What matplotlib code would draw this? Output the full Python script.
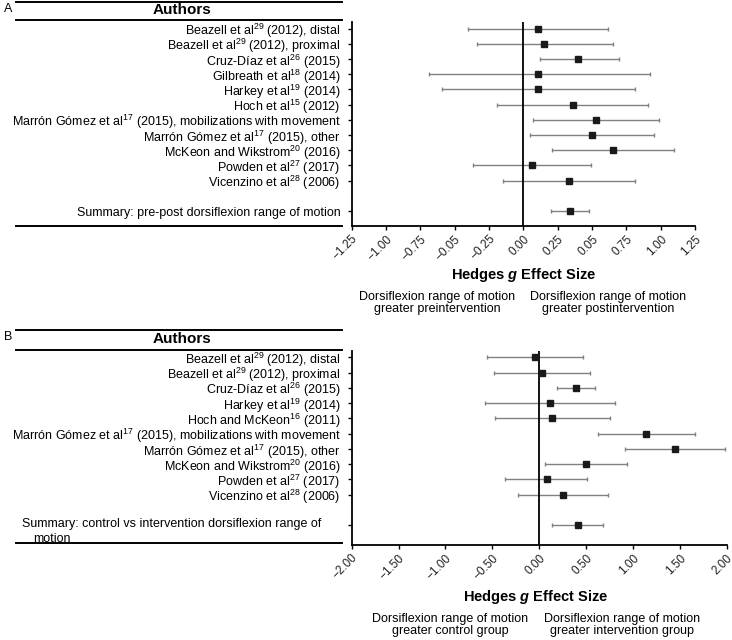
import matplotlib.pyplot as plt
from matplotlib.lines import Line2D

plt.rcParams['font.family'] = ['Liberation Sans', 'DejaVu Sans']
plt.rcParams['mathtext.fontset'] = 'custom'
plt.rcParams['mathtext.rm'] = 'Liberation Sans'
plt.rcParams['mathtext.it'] = 'Liberation Sans:italic'
plt.rcParams['mathtext.bf'] = 'Liberation Sans:bold'
plt.rcParams['mathtext.bfit'] = 'Liberation Sans:italic:bold'

# Panel A: pre-post
studies_a = [r"Beazell et al$^{29}$ (2012), distal",
             r"Beazell et al$^{29}$ (2012), proximal",
             r"Cruz-Díaz et al$^{26}$ (2015)",
             r"Gilbreath et al$^{18}$ (2014)",
             r"Harkey et al$^{19}$ (2014)",
             r"Hoch et al$^{15}$ (2012)",
             r"Marrón Gómez et al$^{17}$ (2015), mobilizations with movement",
             r"Marrón Gómez et al$^{17}$ (2015), other",
             r"McKeon and Wikstrom$^{20}$ (2016)",
             r"Powden et al$^{27}$ (2017)",
             r"Vicenzino et al$^{28}$ (2006)",
             "Summary: pre-post dorsiflexion range of motion"]
g_a = [0.11, 0.15, 0.40, 0.11, 0.11, 0.36, 0.53, 0.50, 0.65, 0.06, 0.33, 0.34]
lo_a = [-0.40, -0.34, 0.12, -0.69, -0.59, -0.19, 0.07, 0.05, 0.21, -0.37, -0.15, 0.20]
hi_a = [0.62, 0.65, 0.70, 0.92, 0.81, 0.91, 0.99, 0.95, 1.10, 0.49, 0.81, 0.48]
ticks_a = [-1.25, -1.0, -0.75, -0.5, -0.25, 0.0, 0.25, 0.5, 0.75, 1.0, 1.25]
ticklabels_a = ["\u22121.25", "\u22121.00", "\u22120.75", "\u22120.05", "\u22120.25",
                "0.00", "0.25", "0.05", "0.75", "1.00", "1.25"]

# Panel B: control vs intervention
studies_b = [r"Beazell et al$^{29}$ (2012), distal",
             r"Beazell et al$^{29}$ (2012), proximal",
             r"Cruz-Díaz et al$^{26}$ (2015)",
             r"Harkey et al$^{19}$ (2014)",
             r"Hoch and McKeon$^{16}$ (2011)",
             r"Marrón Gómez et al$^{17}$ (2015), mobilizations with movement",
             r"Marrón Gómez et al$^{17}$ (2015), other",
             r"McKeon and Wikstrom$^{20}$ (2016)",
             r"Powden et al$^{27}$ (2017)",
             r"Vicenzino et al$^{28}$ (2006)",
             ""]
g_b = [-0.05, 0.03, 0.39, 0.12, 0.14, 1.14, 1.45, 0.50, 0.08, 0.25, 0.41]
lo_b = [-0.56, -0.48, 0.19, -0.58, -0.47, 0.63, 0.92, 0.06, -0.36, -0.23, 0.14]
hi_b = [0.47, 0.54, 0.60, 0.81, 0.75, 1.66, 1.98, 0.94, 0.51, 0.73, 0.68]
ticks_b = [-2.0, -1.5, -1.0, -0.5, 0.0, 0.5, 1.0, 1.5, 2.0]
ticklabels_b = ["\u22122.00", "\u22121.50", "\u22121.00", "\u22120.50", "0.00",
                "0.50", "1.00", "1.50", "2.00"]

W, H = 732, 640
fig = plt.figure(figsize=(7.32, 6.4), dpi=100)


def fx(x):
    return x / W


def fy(y):
    return 1 - y / H


def hline(x0, x1, y):
    fig.add_artist(Line2D([fx(x0), fx(x1)], [fy(y), fy(y)], lw=1.4,
                          color='black', transform=fig.transFigure))


def forest(rect, rows, g, lo, hi, labels, xlim, ylim, ticks, ticklabels):
    ax = fig.add_axes(rect)
    xerr = [[gi - l for gi, l in zip(g, lo)], [h - gi for gi, h in zip(g, hi)]]
    ax.errorbar(g, rows, xerr=xerr, fmt='none', ecolor='#808080',
                elinewidth=1, capsize=1.6, capthick=1)
    ax.plot(g, rows, 's', color='#1a1a1a', ms=4.3, zorder=3)
    ax.axvline(0, color='black', lw=1.3)
    ax.set_xlim(*xlim)
    ax.set_ylim(*ylim)
    for s in ['top', 'right']:
        ax.spines[s].set_visible(False)
    for s in ['left', 'bottom']:
        ax.spines[s].set_linewidth(1.3)
    ax.set_yticks(rows)
    ax.set_yticklabels(labels, fontsize=9)
    ax.set_xticks(ticks)
    ax.set_xticklabels(ticklabels, fontsize=8.5, rotation=45, ha='right',
                       rotation_mode='anchor', color='#222222')
    ax.tick_params(axis='y', length=3, width=1, pad=5)
    ax.tick_params(axis='x', length=3, width=1, pad=2)
    return ax


# ---- Panel A ----
rows_a = list(range(11)) + [12]
forest([fx(351.7), fy(226), (695 - 351.7) / W, (226 - 22) / H],
       rows_a, g_a, lo_a, hi_a, studies_a, (-1.25, 1.25), (12.98, -0.44),
       ticks_a, ticklabels_a)
hline(16, 342, 1.5)
hline(16, 342, 19.5)
hline(16, 342, 226)
fig.text(fx(4), fy(9), "A", fontsize=9, ha='left', va='center')
fig.text(fx(182), fy(10), "Authors", fontsize=11, fontweight='bold',
         ha='center', va='center')
fig.text(fx(523.3), fy(275), r"Hedges $\mathbfit{g}$ Effect Size", fontsize=10.5,
         fontweight='bold', ha='center', va='center')
fig.text(fx(437), fy(303), "Dorsiflexion range of motion\ngreater preintervention",
         fontsize=9, ha='center', va='center', linespacing=1.1)
fig.text(fx(608), fy(303), "Dorsiflexion range of motion\ngreater postintervention",
         fontsize=9, ha='center', va='center', linespacing=1.1)

# ---- Panel B ----
rows_b = list(range(10)) + [11]
forest([fx(351.7), fy(545), (726.7 - 351.7) / W, (545 - 351) / H],
       rows_b, g_b, lo_b, hi_b, studies_b, (-2.0, 2.0), (12.29, -0.41),
       ticks_b, ticklabels_b)
hline(16, 342, 330)
hline(16, 342, 350)
hline(16, 342, 543)
fig.text(fx(4), fy(337), "B", fontsize=9, ha='left', va='center')
fig.text(fx(182), fy(339), "Authors", fontsize=11, fontweight='bold',
         ha='center', va='center')
fig.text(fx(22), fy(524.5), "Summary: control vs intervention dorsiflexion range of",
         fontsize=9, ha='left', va='center')
fig.text(fx(33), fy(538.5), "motion", fontsize=9, ha='left', va='center')
fig.text(fx(535.7), fy(597), r"Hedges $\mathbfit{g}$ Effect Size", fontsize=10.5,
         fontweight='bold', ha='center', va='center')
fig.text(fx(450), fy(625), "Dorsiflexion range of motion\ngreater control group",
         fontsize=9, ha='center', va='center', linespacing=1.1)
fig.text(fx(621.7), fy(625), "Dorsiflexion range of motion\ngreater intervention group",
         fontsize=9, ha='center', va='center', linespacing=1.1)

fig.savefig("out.png", dpi=100)
